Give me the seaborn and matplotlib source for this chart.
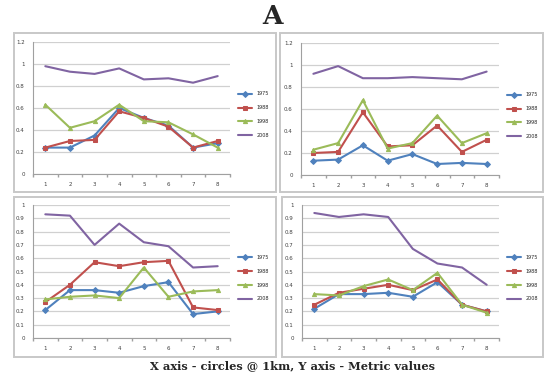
import numpy as np
import pandas as pd
import matplotlib
matplotlib.use('Agg')
import matplotlib.pyplot as plt
import seaborn as sns
from matplotlib.patches import Rectangle
from matplotlib.ticker import MultipleLocator, FixedLocator

# x axis: circles @ 1km
circles = [1, 2, 3, 4, 5, 6, 7, 8]
years = ['1975', '1988', '1998', '2008']

# top-left panel
tl_1975 = [0.24, 0.24, 0.35, 0.60, 0.51, 0.44, 0.24, 0.28]
tl_1988 = [0.24, 0.30, 0.31, 0.57, 0.51, 0.43, 0.24, 0.30]
tl_1998 = [0.63, 0.42, 0.48, 0.63, 0.48, 0.47, 0.36, 0.24]
tl_2008 = [0.98, 0.93, 0.91, 0.96, 0.86, 0.87, 0.83, 0.89]

# top-right panel
tr_1975 = [0.13, 0.14, 0.27, 0.13, 0.19, 0.10, 0.11, 0.10]
tr_1988 = [0.20, 0.21, 0.57, 0.26, 0.27, 0.45, 0.21, 0.32]
tr_1998 = [0.23, 0.29, 0.68, 0.24, 0.29, 0.54, 0.29, 0.38]
tr_2008 = [0.92, 0.99, 0.88, 0.88, 0.89, 0.88, 0.87, 0.94]

# bottom-left panel
bl_1975 = [0.21, 0.36, 0.36, 0.34, 0.39, 0.42, 0.18, 0.20]
bl_1988 = [0.27, 0.40, 0.57, 0.54, 0.57, 0.58, 0.23, 0.21]
bl_1998 = [0.29, 0.31, 0.32, 0.30, 0.53, 0.31, 0.35, 0.36]
bl_2008 = [0.93, 0.92, 0.70, 0.86, 0.72, 0.69, 0.53, 0.54]

# bottom-right panel
br_1975 = [0.22, 0.33, 0.33, 0.34, 0.31, 0.42, 0.25, 0.20]
br_1988 = [0.25, 0.34, 0.37, 0.40, 0.36, 0.44, 0.25, 0.20]
br_1998 = [0.33, 0.32, 0.39, 0.44, 0.36, 0.49, 0.25, 0.19]
br_2008 = [0.94, 0.91, 0.93, 0.91, 0.67, 0.56, 0.53, 0.40]

colors = ['#4F81BD', '#C0504D', '#9BBB59', '#8064A2']
markers = ['D', 's', '^', 'None']

sns.set_theme(style='white')

fig = plt.figure(figsize=(5.44, 3.75), dpi=100)

def px(x0, y0, x1, y1):
    # pixel box -> figure fraction rect
    return [x0 / 544, 1 - y1 / 375, (x1 - x0) / 544, (y1 - y0) / 375]

# chart frames
for (x0, y0, x1, y1) in [(14, 33, 276, 192), (280, 33, 543, 192),
                         (14, 197, 276, 357), (282, 197, 543, 357)]:
    fig.patches.append(Rectangle((x0 / 544, 1 - y1 / 375), (x1 - x0) / 544, (y1 - y0) / 375,
                                 transform=fig.transFigure, fill=False,
                                 edgecolor='#c8c8c8', linewidth=1.4))

panels = [
    (px(33, 42, 230, 174), [tl_1975, tl_1988, tl_1998, tl_2008], 1.2, 0.2),
    (px(301, 43, 499, 175), [tr_1975, tr_1988, tr_1998, tr_2008], 1.2, 0.2),
    (px(33, 205, 230, 338), [bl_1975, bl_1988, bl_1998, bl_2008], 1.0, 0.1),
    (px(302, 205, 499, 338), [br_1975, br_1988, br_1998, br_2008], 1.0, 0.1),
]

for rect, series, ymax, step in panels:
    ax = fig.add_axes(rect)
    for yr, vals, c, m in zip(years, series, colors, markers):
        sns.lineplot(x=circles, y=vals, ax=ax, color=c, marker=m, markersize=3,
                     markeredgecolor=c, linewidth=1.5, label=yr)
    ax.set_xlim(0.5, 8.5)
    ax.set_ylim(0, ymax)
    ax.yaxis.set_major_locator(MultipleLocator(step))
    ax.set_yticklabels(['%g' % round(v, 1) for v in ax.get_yticks()])
    ax.set_xticks(circles)
    ax.xaxis.set_minor_locator(FixedLocator(np.arange(0.5, 9, 1)))
    ax.grid(axis='y', color='#d0d0d0', linewidth=0.9)
    ax.set_axisbelow(True)
    for s in ['top', 'right']:
        ax.spines[s].set_visible(False)
    for s in ['left', 'bottom']:
        ax.spines[s].set_color('#a0a0a0')
        ax.spines[s].set_linewidth(0.8)
    ax.tick_params(axis='both', which='major', labelsize=4, colors='#404040', length=0, pad=6)
    ax.tick_params(axis='x', which='minor', bottom=True, length=2.5, color='#a0a0a0')
    ax.set_xlabel('')
    ax.set_ylabel('')
    ax.legend(loc='center left', bbox_to_anchor=(1.03, 0.45), frameon=False,
              fontsize=3.5, handlelength=3, labelspacing=1.8, borderaxespad=0)

fig.text(0.5, 1 - 17 / 375, 'A', ha='center', va='center', fontsize=19,
         fontweight='bold', family='DejaVu Serif')
fig.text(292 / 544, 1 - 366 / 375, 'X axis - circles @ 1km, Y axis - Metric values',
         ha='center', va='center', fontsize=8.2, fontweight='bold', family='DejaVu Serif')

fig.savefig('out.png', dpi=100)
